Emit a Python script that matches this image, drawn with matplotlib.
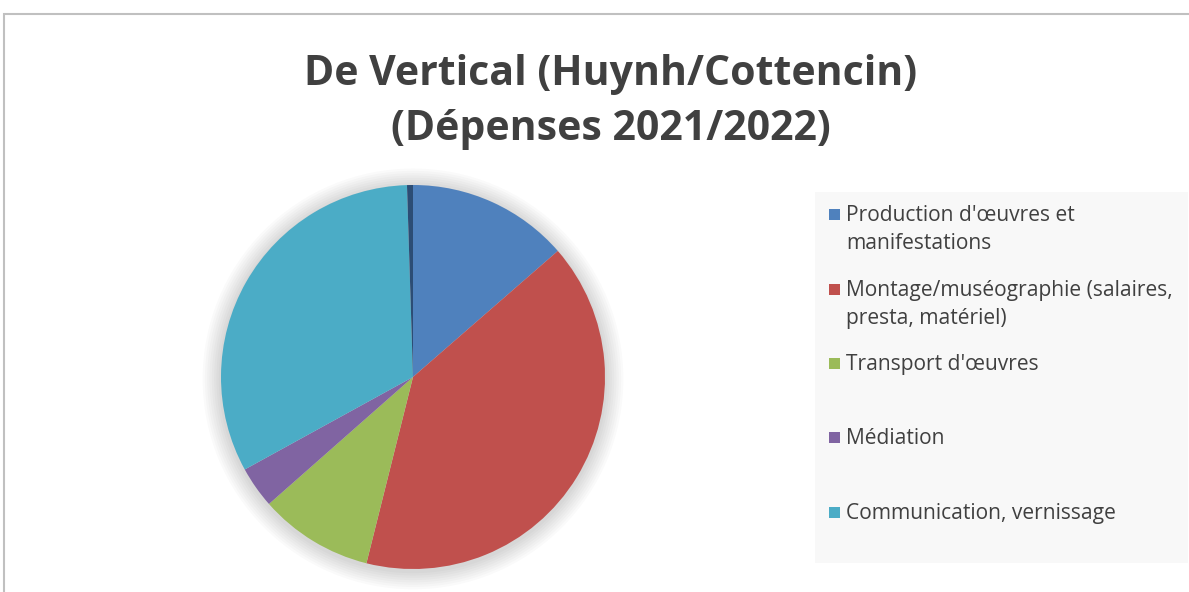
import matplotlib.pyplot as plt
from matplotlib.patches import Rectangle, Circle

categories = ["Production d'œuvres et\nmanifestations",
              "Montage/muséographie (salaires,\npresta, matériel)",
              "Transport d'œuvres",
              "Médiation",
              "Communication, vernissage",
              ""]
values = [13.6, 40.3, 9.6, 3.5, 32.5, 0.5]
colors = ["#4f81bd", "#c0504d", "#9bbb59", "#8064a2", "#4bacc6", "#2c4d75"]

W, H = 1189, 592
fig = plt.figure(figsize=(W / 100, H / 100), dpi=100)
fig.patch.set_facecolor("white")
plt.rcParams['font.family'] = ['Open Sans', 'DejaVu Sans']

# outer chart frame
fig.patches.append(Rectangle((4 / W, -0.1), 1.2, (H - 14) / H + 0.1, transform=fig.transFigure,
                             fill=False, edgecolor="#c0c0c0", linewidth=1.5))

fig.text(611 / W, 1 - 102 / H, "De Vertical (Huynh/Cottencin)\n(Dépenses 2021/2022)",
         ha="center", va="center", fontsize=29.5, fontweight="bold", color="#404040",
         linespacing=1.47)

# pie
cx, cy, r = 413, 377, 192
m = 1.15
ax = fig.add_axes([(cx - m * r) / W, (H - cy - m * r) / H, 2 * m * r / W, 2 * m * r / H])
for k in range(8):
    ax.add_patch(Circle((0, -0.01), 1.0 + 0.012 * (k + 1), color="#000000",
                        alpha=0.018, zorder=0, linewidth=0))
ax.pie(values, colors=colors, startangle=90, counterclock=False,
       wedgeprops=dict(linewidth=0))
ax.set_xlim(-m, m)
ax.set_ylim(-m, m)
ax.axis("off")

# legend box
lx0, ly0, lx1, ly1 = 815, 192, 1188, 563
fig.patches.append(Rectangle((lx0 / W, 1 - ly1 / H), (lx1 - lx0) / W, (ly1 - ly0) / H,
                             transform=fig.transFigure, facecolor="#f8f8f8",
                             edgecolor="none"))
entry_y = [214, 289, 363, 437, 512]
for lab, col, y in zip(categories[:5], colors[:5], entry_y):
    fig.patches.append(Rectangle((829 / W, 1 - (y + 6) / H), 11 / W, 11 / H,
                                 transform=fig.transFigure, facecolor=col,
                                 edgecolor="none"))
    fig.text(846 / W, 1 - (y - 9) / H, lab, ha="left", va="top", fontsize=15.1,
             color="#404040", linespacing=1.45)

fig.savefig("out.png", dpi=100)
